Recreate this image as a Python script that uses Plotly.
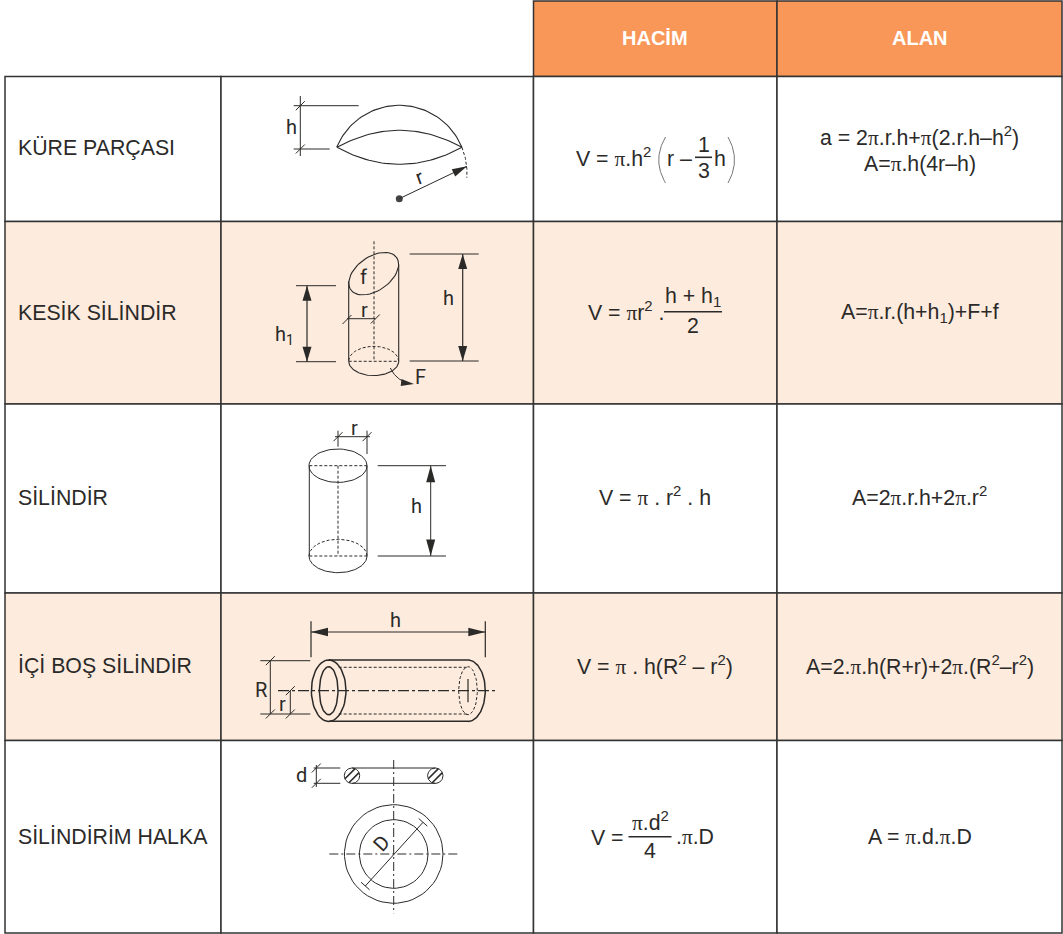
import numpy as np
import plotly.graph_objects as go

# table structure
col_edges = [5, 221, 533.5, 777, 1062]
row_edges = [76.5, 221.5, 404, 593, 740.5, 933]
header_top = 1
header_labels = ["HACİM", "ALAN"]
shape_names = ["KÜRE PARÇASI", "KESİK SİLİNDİR", "SİLİNDİR", "İÇİ BOŞ SİLİNDİR", "SİLİNDİRİM HALKA"]
name_y = [148, 313, 498, 666, 837]

PI = '<span style="font-family:Liberation Serif">π</span>'
alan_text = [
    [f"a = 2{PI}.r.h+{PI}(2.r.h–h<sup>2</sup>)", f"A={PI}.h(4r–h)"],
    [f"A={PI}.r.(h+h<sub>1</sub>)+F+f"],
    [f"A=2{PI}.r.h+2{PI}.r<sup>2</sup>"],
    [f"A=2.{PI}.h(R+r)+2{PI}.(R<sup>2</sup>–r<sup>2</sup>)"],
    [f"A = {PI}.d.{PI}.D"],
]
alan_y = [[136, 163.5], [313], [496.5], [665], [837]]
hacim_text = [f"V = {PI} . r<sup>2</sup> . h", f"V = {PI} . h(R<sup>2</sup> – r<sup>2</sup>)"]

INK = "#2b2a29"
LINE = "#333333"
ORANGE = "#f99759"
PEACH = "#fdebdd"
FONT = "Liberation Sans"
LABEL_FONT = "Roboto"
TEXT_SIZE = 21.3
LABEL_SIZE = 20
HACIM_X = (col_edges[2] + col_edges[3]) / 2
ALAN_X = (col_edges[3] + col_edges[4]) / 2

fig = go.Figure()
strokes = {}
notes = []


def seg(xs, ys, w=1.0, dash="solid", color=INK):
    bx, by = strokes.setdefault((w, dash, color), ([], []))
    bx.extend(list(xs) + [None])
    by.extend(list(ys) + [None])


def arc(cx, cy, rx, ry, a0=0, a1=360, rot=0, w=1.0, dash="solid"):
    # angles in degrees, counter-clockwise on screen
    t = np.radians(np.linspace(a0, a1, 60))
    x = rx * np.cos(t)
    y = -ry * np.sin(t)
    r = np.radians(rot)
    seg(cx + x * np.cos(r) + y * np.sin(r), cy - x * np.sin(r) + y * np.cos(r), w, dash)


def quad(p0, c, p1, w=1.0, dash="solid", color=INK):
    t = np.linspace(0, 1, 40)
    x = (1 - t) ** 2 * p0[0] + 2 * t * (1 - t) * c[0] + t ** 2 * p1[0]
    y = (1 - t) ** 2 * p0[1] + 2 * t * (1 - t) * c[1] + t ** 2 * p1[1]
    seg(x, y, w, dash, color)


def tick(x, y, s=4.5):
    seg([x - s, x + s], [y + s, y - s], 1.0)


def head(tx, ty, dx, dy, length=15, width=9):
    n = np.hypot(dx, dy)
    ux, uy = dx / n, dy / n
    bx, by = tx - ux * length, ty - uy * length
    px, py = -uy * width / 2, ux * width / 2
    fig.add_trace(go.Scatter(x=[tx, bx + px, bx - px, tx], y=[ty, by + py, by - py, ty], mode="lines",
                             fill="toself", fillcolor=INK, line=dict(width=0), hoverinfo="skip", showlegend=False))


def txt(x, y, s, size=TEXT_SIZE, anchor="center", color=INK, family=FONT, angle=0):
    notes.append(dict(x=x, y=y, text=s, showarrow=False, xanchor=anchor, yanchor="middle", textangle=angle,
                      font=dict(size=size, color=color, family=family), xref="x", yref="y",
                      borderpad=0, borderwidth=0))


def label(x, y, s, angle=0, size=LABEL_SIZE):
    txt(x, y, s, size=size, family=LABEL_FONT, angle=angle)


def cell(x0, x1, y0, y1, fill):
    fig.add_shape(type="rect", x0=x0, x1=x1, y0=y0, y1=y1, fillcolor=fill, layer="below",
                  line=dict(color=LINE, width=1.5))


# cells
cell(col_edges[2], col_edges[3], header_top, row_edges[0], ORANGE)
cell(col_edges[3], col_edges[4], header_top, row_edges[0], ORANGE)
for i in range(len(shape_names)):
    fill = PEACH if i % 2 else "white"
    for j in range(len(col_edges) - 1):
        cell(col_edges[j], col_edges[j + 1], row_edges[i], row_edges[i + 1], fill)
    txt(18, name_y[i], shape_names[i], size=21.3, anchor="left")
    for s, y in zip(alan_text[i], alan_y[i]):
        txt(ALAN_X, y, s)

for j, s in enumerate(header_labels):
    txt((col_edges[2 + j] + col_edges[3 + j]) / 2, 38, f"<b>{s}</b>", size=20, color="white")

# hacim formulas
txt(576, 157, f"V = {PI}.h<sup>2</sup>", anchor="left")
quad((665.5, 137), (652, 160), (665.5, 183), w=0.9, color="#666666")
txt(667, 159, "r –", anchor="left")
txt(703.5, 145, "1")
seg([695, 712], [157.3, 157.3], 1.6)
txt(703.5, 171, "3")
txt(713.5, 159, "h", anchor="left")
quad((728, 137), (741, 160), (728, 183), w=0.9, color="#666666")

txt(588, 311, f"V = {PI}r<sup>2</sup> .", anchor="left")
txt(693, 297, "h + h<sub>1</sub>")
seg([664, 722], [311.7, 311.7], 1.6)
txt(693, 326, "2")

txt(HACIM_X, 496.5, hacim_text[0])
txt(HACIM_X, 665, hacim_text[1])

txt(590.5, 837.5, "V =", anchor="left")
txt(650, 821.5, f"{PI}.d<sup>2</sup>")
seg([628.5, 671.5], [836.7, 836.7], 1.6)
txt(650, 851, "4")
txt(675.5, 836.5, f".{PI}.D", anchor="left")

# kure parcasi
seg([300.3, 300.3], [96, 156])
seg([293.7, 358.7], [105.7, 105.7])
seg([293.7, 329.7], [149, 149])
tick(300.3, 105.7)
tick(300.3, 149)
label(291, 127, "h")
arc(399.3, 173, 67.7, 67.7, 22.3, 157.7, w=1.1)
arc(399.3, 173, 67.7, 67.7, 22.3, -4, w=1.0, dash="3px,2px")
quad((337, 147.3), (399.5, 113.3), (462, 147.3), w=1.1)
quad((337, 147.3), (399.5, 181.3), (462, 147.3), w=1.1)
seg([399.3, 467], [198.7, 166.3])
head(467, 166.3, 67.7, -32.4, 15, 8)
fig.add_trace(go.Scatter(x=[399.3], y=[198.7], mode="markers", marker=dict(size=7, color="#444444"),
                         hoverinfo="skip", showlegend=False))
label(419.7, 177.3, "r", angle=-20)

# kesik silindir
seg([374, 374], [241.3, 361.3], 1.0, "3px,2px")
arc(373.7, 273.7, 28, 17, rot=35, w=1.1)
seg([348.7, 348.7], [281.3, 361.3], 1.1)
seg([398.7, 398.7], [264.7, 361.3], 1.1)
seg([348.7, 398.7], [361.3, 361.3], 1.0, "3px,2px")
arc(373.7, 361.3, 25, 14.3, 180, 360, w=1.1)
arc(373.7, 361.3, 25, 15, 0, 180, dash="3px,2px")
seg([347, 375.3], [318.7, 318.7])
tick(347, 319.5)
tick(375.3, 319)
label(364.7, 309.7, "r")
label(363, 277, "f")
seg([296, 336], [285.7, 285.7])
seg([296, 336], [361.7, 361.7])
seg([307, 307], [285.7, 361.7], 1.2)
head(307, 285.7, 0, -1)
head(307, 361.7, 0, 1)
label(284, 335, "h<sub>1</sub>")
seg([409.7, 478.7], [254, 254])
seg([409.7, 478.7], [361, 361])
seg([462.7, 462.7], [254, 361], 1.2)
head(462.7, 254, 0, -1)
head(462.7, 361, 0, 1)
label(448.7, 298, "h")
quad((390.3, 368), (396, 380), (408, 383))
head(414, 384, 1, 0.12, 13, 7)
label(420.7, 377, "F")

# silindir
seg([309.3, 309.3], [465.7, 556])
seg([367, 367], [465.7, 556])
arc(338, 465.7, 29, 16.7)
seg([309.3, 367], [465.7, 465.7], 1.0, "3px,2px")
seg([338, 338], [465.7, 556], 1.0, "3px,2px")
seg([309.3, 367], [556, 556], 1.0, "3px,2px")
arc(338, 556, 29, 16.7, 180, 360)
arc(338, 556, 29, 16.7, 0, 180, dash="3px,2px")
seg([335, 370], [436.7, 436.7])
seg([338, 338], [430.7, 446.7])
seg([367, 367], [430.7, 454])
tick(338, 436.7)
tick(367, 436.7)
label(354.3, 428, "r")
seg([377.7, 446], [465.7, 465.7])
seg([377.7, 446], [556, 556])
seg([430.7, 430.7], [465.7, 556])
head(430.7, 465.7, 0, -1, 16.5, 9)
head(430.7, 556, 0, 1, 16.5, 9)
label(416.3, 505.7, "h")

# ici bos silindir
seg([311, 485.3], [632, 632], 1.2)
seg([311, 311], [621.3, 657.3], 1.2)
seg([485.3, 485.3], [621.3, 657.3], 1.2)
head(311, 632, -1, 0, 17, 8.5)
head(485.3, 632, 1, 0, 17, 8.5)
label(395.7, 619.7, "h")
arc(328.7, 690.7, 17.3, 30.7, w=1.5)
arc(328.7, 690.7, 9.3, 24, w=1.5)
seg([328.7, 468], [660, 660], 1.5)
seg([328.7, 468], [721.3, 721.3], 1.5)
arc(468, 690.7, 17.3, 30.7, -90, 90, w=1.5)
arc(468, 690.7, 9.3, 24, dash="3px,2px")
seg([338.7, 468], [667.3, 667.3], 1.0, "3px,2px")
seg([338.7, 468], [714, 714], 1.0, "3px,2px")
seg([278, 498], [690.7, 690.7], 1.2, "11px,3px,3px,3px")
seg([468, 468], [679, 702.3], 1.2)
seg([260.3, 310.3], [660.7, 660.7])
seg([260.3, 310.3], [714, 714])
seg([270.3, 270.3], [660.7, 714])
tick(270.3, 660.7)
tick(270.3, 714)
label(261.3, 690, "R")
seg([290.3, 290.3], [690.7, 714])
tick(290.3, 690.7)
tick(290.3, 714)
label(282, 704, "r")

# silindirim halka
seg([313.7, 340.3], [768, 768])
seg([313.7, 340.3], [783.3, 783.3])
seg([316.3, 316.3], [765, 787])
tick(316.3, 768)
tick(316.3, 783.3)
label(301, 775, "d")
seg([352, 435.3], [768, 768])
seg([352, 435.3], [783.3, 783.3])
for cx in [352, 435.3]:
    arc(cx, 775.7, 7.7, 7.7)
    for off in [-2.8, 2.8]:
        half = np.sqrt(7.7 ** 2 - off ** 2) * 0.707
        mx, my = cx + off * 0.707, 775.7 + off * 0.707
        seg([mx - half, mx + half], [my + half, my - half], 1.6)
seg([393.7, 393.7], [760, 913.3], 1.0, "9px,3px,2px,3px")
seg([329.3, 458], [854, 854], 1.0, "9px,3px,2px,3px")
arc(393.7, 854, 49.3, 49.3)
arc(393.7, 854, 34.3, 34.3)
seg([365.3, 423], [886, 822.3])
seg([361, 369.6], [882.2, 889.8])
seg([418.7, 427.3], [818.5, 826.1])
label(381.7, 843.3, "D", angle=-48)

for (w, dash, color), (bx, by) in strokes.items():
    fig.add_trace(go.Scatter(x=bx, y=by, mode="lines", line=dict(width=w, dash=dash, color=color),
                             hoverinfo="skip", showlegend=False))

fig.update_layout(
    width=1063, height=934, autosize=False,
    margin=dict(l=0, r=0, t=0, b=0),
    paper_bgcolor="white", plot_bgcolor="white",
    xaxis=dict(range=[0, 1063], visible=False, fixedrange=True),
    yaxis=dict(range=[934, 0], visible=False, fixedrange=True),
    annotations=notes,
    showlegend=False,
)
fig.write_html("out.html", config={"displayModeBar": False},
               post_script="document.body.style.margin='0';document.body.style.overflow='hidden';")
